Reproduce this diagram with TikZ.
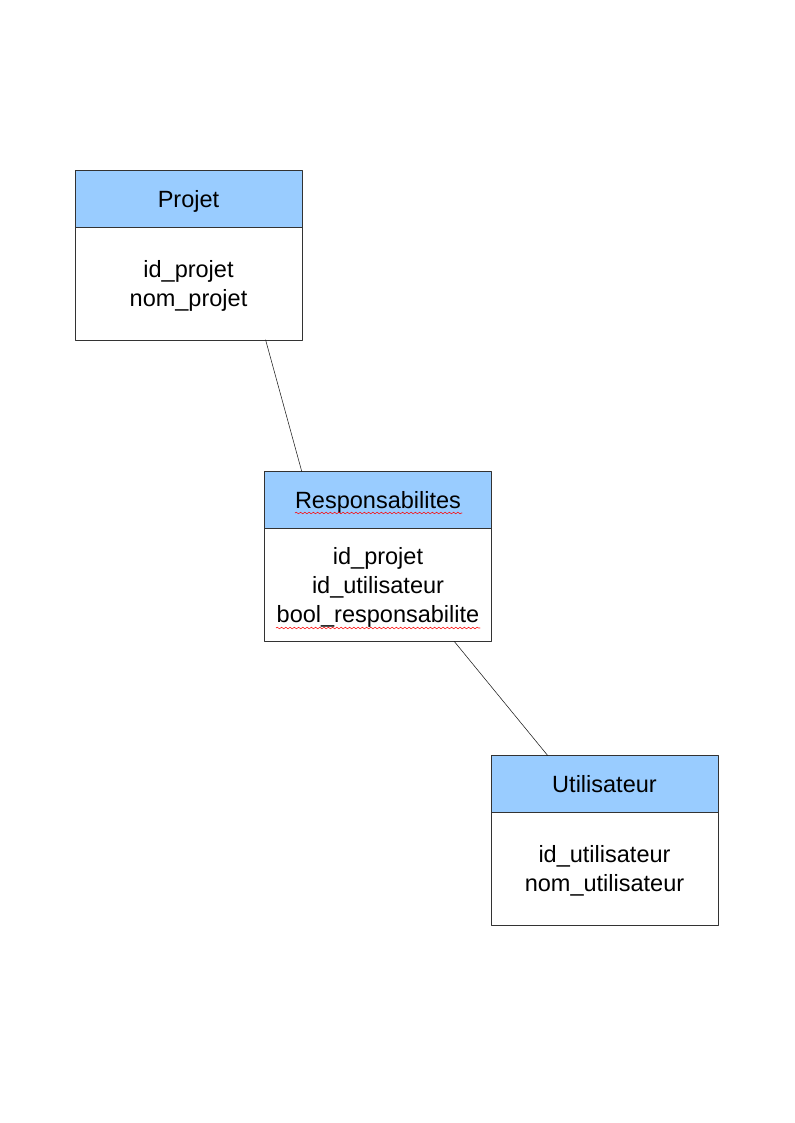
\documentclass[tikz,border=0pt]{standalone}
\usepackage{fontspec}
\setmainfont{Liberation Sans}
\usetikzlibrary{positioning,calc,decorations.pathmorphing}
\definecolor{entete}{HTML}{99CCFF}
\begin{document}
\begin{tikzpicture}[x=0.02646cm, y=-0.02646cm, font=\fontsize{17.7}{21.8}\selectfont, line join=round, line cap=round]
	\tikzset{tete/.style={draw=black!80, fill=entete, minimum width=6cm, minimum height=1.5cm, inner sep=0pt, outer sep=0pt, text depth=0pt},
		corps/.style={draw=black!80, minimum width=6cm, minimum height=2.99cm, align=center, inner sep=0pt, outer sep=0pt, text depth=0pt},
		souligne/.style={red, line width=0.4pt, decorate, decoration={snake, amplitude=0.6pt, segment length=3.2pt}}}
	\useasboundingbox (0,0) rectangle (794,1123);
	% tables
	\node[tete] (projet) at (188.5,198.5) {Projet};
	\node[corps, below=0pt of projet] (pcorps) {id\_projet\\nom\_projet};
	\node[tete] (resp) at (378,500) {Responsabilites};
	\node[corps, below=0pt of resp] (rcorps) {id\_projet\\id\_utilisateur\\bool\_responsabilite};
	\node[tete] (util) at (604.5,784) {Utilisateur};
	\node[corps, below=0pt of util] (ucorps) {id\_utilisateur\\nom\_utilisateur};
	% liens
	\draw[black!90] ($(pcorps.south west)!.84!(pcorps.south east)$) -- ($(resp.north west)!.164!(resp.north east)$);
	\draw[black!90] ($(rcorps.south west)!.836!(rcorps.south east)$) -- ($(util.north west)!.25!(util.north east)$);
	\draw[souligne] (295,513) -- (462,513);
	\draw[souligne] (276,628) -- (480,628);
\end{tikzpicture}
\end{document}
